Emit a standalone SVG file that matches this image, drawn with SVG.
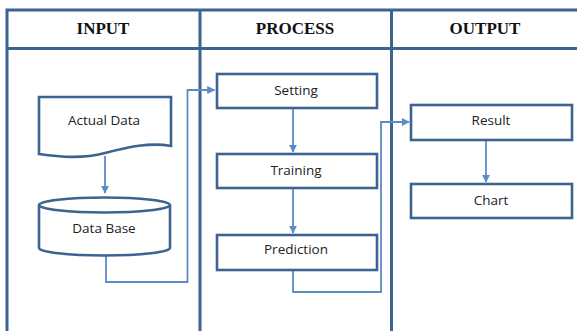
<svg xmlns="http://www.w3.org/2000/svg" width="577" height="331" viewBox="0 0 577 331">
<defs>
<style>
.grid{stroke:#3d6391;stroke-width:3;fill:none}
.node{fill:#fff;stroke:#3d6391;stroke-width:2.6}
.conn{stroke:#5b8cc8;stroke-width:1.8;fill:none}
.hdr{font-family:"Liberation Serif",serif;font-weight:bold;font-size:17px;fill:#111;text-anchor:middle}
.lbl{font-family:"Open Sans","Liberation Sans",sans-serif;font-size:13.5px;fill:#222;text-anchor:middle}
</style>
<marker id="arr" viewBox="0 0 10 10" refX="9" refY="5" markerWidth="4.5" markerHeight="4.5" orient="auto" markerUnits="strokeWidth">
<path d="M0,0 L10,5 L0,10 z" fill="#5b8cc8"/>
</marker>
</defs>
<rect width="577" height="331" fill="#fff"/>
<g id="table">
<path class="grid" d="M7,331 V10 H577 M7,48.5 H577 M200,10 V331 M391.5,10 V331"/>
<text class="hdr" x="103" y="34">INPUT</text>
<text class="hdr" x="295" y="34">PROCESS</text>
<text class="hdr" x="485" y="34">OUTPUT</text>
</g>
<g id="connectors">
<path class="conn" d="M105,156 V193" marker-end="url(#arr)"/>
<path class="conn" d="M106,255 V282 H187.5 V90 H214.5" marker-end="url(#arr)"/>
<path class="conn" d="M293,108 V152" marker-end="url(#arr)"/>
<path class="conn" d="M293,188 V233" marker-end="url(#arr)"/>
<path class="conn" d="M293,270 V292 H381 V122 H409" marker-end="url(#arr)"/>
<path class="conn" d="M486,140 V182" marker-end="url(#arr)"/>
</g>
<g id="actual-data">
<path class="node" d="M39,97 H171 V146 C150,142 128,147 105,153 C82,159 60,157 39,154 Z"/>
<text class="lbl" x="104" y="125">Actual Data</text>
</g>
<g id="data-base">
<path class="node" d="M39,205 V248 A65.5,7.5 0 0 0 170,248 V205"/>
<ellipse class="node" cx="104.5" cy="205" rx="65.5" ry="7.5"/>
<text class="lbl" x="104" y="233">Data Base</text>
</g>
<g id="setting">
<rect class="node" x="217" y="74" width="160" height="34"/>
<text class="lbl" x="296" y="95">Setting</text>
</g>
<g id="training">
<rect class="node" x="217" y="154" width="160" height="34"/>
<text class="lbl" x="296" y="175">Training</text>
</g>
<g id="prediction">
<rect class="node" x="217" y="235" width="160" height="35"/>
<text class="lbl" x="296" y="254">Prediction</text>
</g>
<g id="result">
<rect class="node" x="411" y="105" width="161" height="35"/>
<text class="lbl" x="491" y="125">Result</text>
</g>
<g id="chart">
<rect class="node" x="411" y="184" width="161" height="34"/>
<text class="lbl" x="491" y="205">Chart</text>
</g>
</svg>
